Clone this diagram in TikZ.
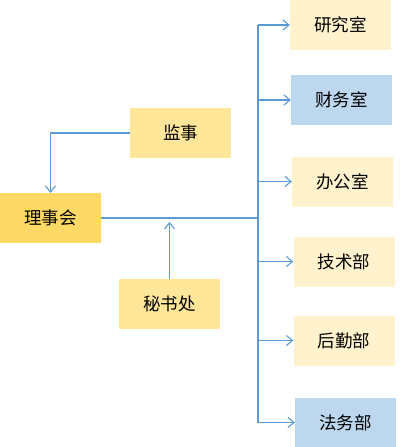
\documentclass[tikz,border=0pt]{standalone}
\usepackage{fontspec}
\setmainfont{Noto Sans CJK SC}
\usetikzlibrary{arrows.meta}
\definecolor{lineblue}{HTML}{5B9BD5}
\definecolor{paleyellow}{HTML}{FFF2CC}
\definecolor{midyellow}{HTML}{FFE699}
\definecolor{darkyellow}{HTML}{FFD966}
\definecolor{paleblue}{HTML}{BDD7EE}

\begin{document}
\begin{tikzpicture}[x=1pt, y=-1pt,
    box/.style={minimum width=101pt, minimum height=50pt, inner sep=0pt,
                font=\fontsize{17.5}{17.5}\selectfont},
    link/.style={draw=lineblue, line width=1.6pt},
    arr/.style={draw=lineblue, line width=1.1pt,
                -{Straight Barb[length=6pt, width=10pt, line width=1.1pt]}}]
                    \useasboundingbox (0,0) rectangle (413,447);
                    % Nodes
                    \node[box, fill=darkyellow] (lishi) at (50.5,218) {理事会};
                    \node[box, fill=midyellow] (jianshi) at (180.5,133) {监事};
                    \node[box, fill=midyellow] (mishu) at (169.5,304) {秘书处};
                    \node[box, fill=paleyellow] (yanjiu) at (340.5,25) {研究室};
                    \node[box, fill=paleblue] (caiwu) at (341.5,100) {财务室};
                    \node[box, fill=paleyellow] (bangong) at (342.5,181.5) {办公室};
                    \node[box, fill=paleyellow] (jishu) at (344,261.5) {技术部};
                    \node[box, fill=paleyellow] (houqin) at (344,340.5) {后勤部};
                    \node[box, fill=paleblue] (fawu) at (345.5,422.5) {法务部};
                    \coordinate (trunk) at (258,218);
                    \coordinate (mishutop) at (169.5,222);
                    % Edges
                    \draw[arr] (jianshi.west) -| (lishi.north);
                    \draw[arr] (mishu.north) -- (mishutop);
                    \draw[link] (lishi.east) -- (trunk);
                    \draw[link] (trunk |- yanjiu.west) -- (trunk |- fawu.west);
                    \draw[arr] (trunk |- yanjiu.west) -- (yanjiu.west);
                    \draw[arr] (trunk |- caiwu.west) -- (caiwu.west);
                    \draw[arr] (trunk |- bangong.west) -- (bangong.west);
                    \draw[arr] (trunk |- jishu.west) -- (jishu.west);
                    \draw[arr] (trunk |- houqin.west) -- (houqin.west);
                    \draw[arr] (trunk |- fawu.west) -- (fawu.west);
                \end{tikzpicture}
\end{document}
